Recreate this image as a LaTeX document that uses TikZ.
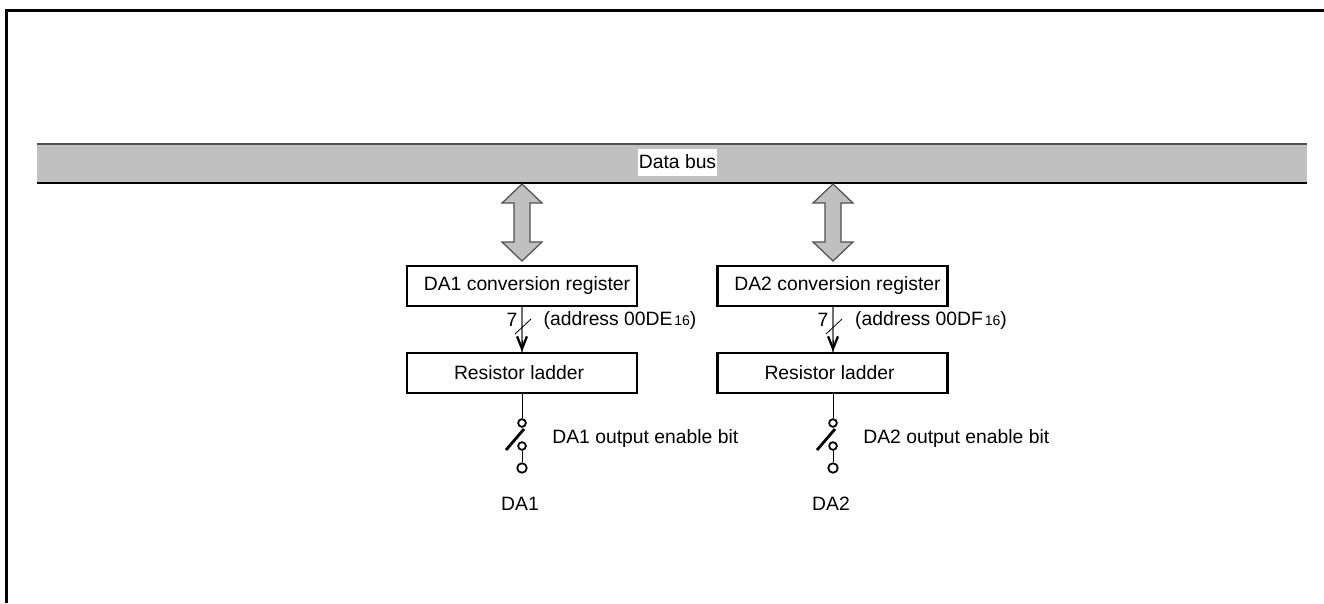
\documentclass[tikz,border=0pt]{standalone}
\usepackage{fontspec}
\setmainfont{Liberation Sans}
\usepackage{xcolor}
\usetikzlibrary{calc,arrows.meta}
\definecolor{busgray}{HTML}{C0C0C0}
\definecolor{edgegray}{HTML}{505050}
\definecolor{linegray}{HTML}{707070}
\newcommand{\offtext}[3]{\hspace*{#1}\raisebox{#2}{#3}}
\tikzset{
  reg/.style={draw=black, line width=1.4pt, minimum width=230*0.02cm, minimum height=40*0.02cm, inner sep=0pt, font=\fontsize{11}{13}\selectfont},
  lab/.style={inner sep=0pt, font=\fontsize{11}{13}\selectfont},
  wire/.style={draw=black, line width=0.45pt},
  bitwire/.style={draw=linegray, line width=0.8pt},
  thickwire/.style={draw=black, line width=1.6pt},
  pin/.style={circle, draw=black, fill=white, line width=1pt, inner sep=0pt, minimum size=4.4pt},
  outpin/.style={pin, minimum size=5.4pt},
  bigarrow/.style={draw=edgegray, fill=busgray, line width=0.7pt, line join=miter},
}
\begin{document}
\begin{tikzpicture}[x=0.02cm,y=-0.02cm]
  \useasboundingbox (0,0) rectangle (1324,603);
  % frame
  \draw[black, line width=1.4pt] (6.5,603) -- (6.5,10.5) -- (1324,10.5);

  % data bus
  \fill[busgray] (37,144) rectangle (1307,183);
  \draw[edgegray, line width=0.9pt] (37,144) -- (1307,144);
  \draw[black, line width=0.6pt] (37,183) -- (1307,183);
  \node[lab, fill=white, minimum width=79*0.02cm, minimum height=27*0.02cm] (bus) at (677.5,162.5) {\raisebox{0.6pt}{Data bus}};

  \foreach \n/\cx/\bx/\ad/\ax/\ex in {1/522/522/00DE/620/552, 2/833/832.5/00DF/931/863}{
    % double arrow
    \draw[bigarrow] (\cx,184) -- (\cx+20,203) -- (\cx+8,203) -- (\cx+8,242) -- (\cx+20,242)
      -- (\cx,261) -- (\cx-20,242) -- (\cx-8,242) -- (\cx-8,203) -- (\cx-20,203) -- cycle;

    \node[reg] (reg\n) at (\bx,286) {\offtext{5.7pt}{2.6pt}{DA\n\ conversion register}};
    \node[reg] (lad\n) at (\bx,373) {\offtext{-3.4pt}{-0.4pt}{Resistor ladder}};

    \coordinate (c\n) at (\cx,0);
    % 7 bit line
    \draw[bitwire] (reg\n.south -| c\n) -- (lad\n.north -| c\n);
    \draw[black, -{Straight Barb[length=7pt,width=5.6pt,line width=1.3pt]}] (\cx,340) -- (lad\n.north -| c\n);
    \draw[wire] (\cx-7,334) -- (\cx+9,319);
    \node[lab] (seven\n) at (\cx-10,320) {7};
    \node[lab] (addr\n) at (\ax,320) {(address \ad\kern1pt{\fontsize{8}{9}\selectfont 16})};

    % switch
    \node[pin] (top\n) at (\cx,423) {};
    \node[pin] (mid\n) at (\cx,446) {};
    \node[outpin] (out\n) at (\cx,468) {};
    \draw[wire] (lad\n.south -| c\n) -- (top\n);
    \draw[wire] (mid\n) -- (out\n);
    \draw[thickwire] (\cx-16,450) -- (\cx+2,429);
    \node[lab, anchor=west] (en\n) at (\ex,438) {DA\n\ output enable bit};
    \node[lab] (da\n) at (\cx-2,504) {DA\n};
  }
\end{tikzpicture}
\end{document}
